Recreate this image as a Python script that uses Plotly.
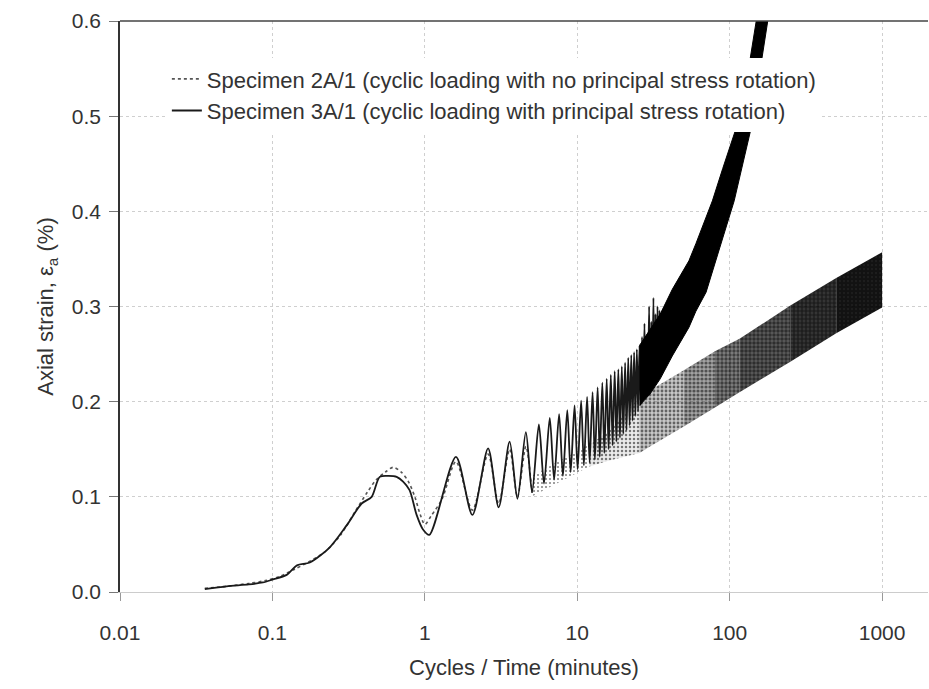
import plotly.graph_objects as go

# ---------------- data ----------------
# Specimen 3A/1 (solid) - initial smooth part
s3_x = [0.036, 0.05, 0.07, 0.0865, 0.1, 0.124, 0.145, 0.176, 0.238, 0.307, 0.385,
        0.448, 0.506, 0.58, 0.653, 0.72, 0.794, 0.883, 0.97, 1.07]
s3_y = [0.003, 0.006, 0.008, 0.010, 0.013, 0.018, 0.028, 0.031, 0.047, 0.070, 0.093,
        0.100, 0.121, 0.122, 0.121, 0.116, 0.107, 0.081, 0.066, 0.060]
# Specimen 3A/1 cycle peaks and troughs
peak_x = [1.6, 2.6, 3.6, 4.6, 5.6, 6.6, 7.6, 8.6, 9.6, 10.6, 11.6, 12.6, 13.6, 14.6,
          15.6, 16.6, 17.6, 18.6, 19.6, 20.6, 21.6, 22.6, 23.6, 24.6, 25.6, 26.6,
          27.6, 28.6, 29.6, 30.6, 31.6, 32.6, 33.6, 34.6]
peak_y = [0.142, 0.151, 0.158, 0.168, 0.176, 0.183, 0.187, 0.191, 0.196, 0.201, 0.205,
          0.210, 0.215, 0.220, 0.224, 0.228, 0.232, 0.234, 0.237, 0.241, 0.246, 0.249,
          0.252, 0.255, 0.259, 0.268, 0.282, 0.270, 0.300, 0.284, 0.309, 0.292, 0.300,
          0.296]
trough_x = [2.05, 3.05, 4.05, 5.05, 6.05, 7.05, 8.05, 9.05, 10.05, 11.05, 12.05, 13.05,
            14.05, 15.05, 16.05, 17.05, 18.05, 19.05, 20.05, 21.05, 22.05, 23.05, 24.05,
            25.05, 26.05, 27.05, 28.05, 29.05, 30.05, 31.05, 32.05, 33.05, 34.05, 35.05]
trough_y = [0.081, 0.089, 0.098, 0.105, 0.114, 0.118, 0.122, 0.126, 0.129, 0.133, 0.136,
            0.139, 0.142, 0.146, 0.150, 0.154, 0.158, 0.162, 0.166, 0.170, 0.175, 0.180,
            0.185, 0.190, 0.196, 0.202, 0.206, 0.209, 0.212, 0.216, 0.219, 0.222, 0.225,
            0.228]
# Specimen 3A/1 dense part: upper and lower envelope of the cycles
band3_up_x = [25.6, 30, 35, 42, 54, 60, 70, 77, 90, 110, 130, 149, 160]
band3_up_y = [0.259, 0.276, 0.292, 0.318, 0.348, 0.366, 0.394, 0.411, 0.445, 0.487,
              0.540, 0.595, 0.630]
band3_lo_x = [25.6, 30, 35, 42, 54, 60, 70, 85, 107, 138, 176, 190]
band3_lo_y = [0.196, 0.208, 0.224, 0.248, 0.278, 0.295, 0.315, 0.358, 0.411, 0.487,
              0.595, 0.630]

# Specimen 2A/1 (dotted) - initial part
s2_x = [0.036, 0.05, 0.07, 0.09, 0.11, 0.14, 0.17, 0.22, 0.28, 0.35, 0.42, 0.48, 0.55,
        0.62, 0.70, 0.78, 0.86, 0.93, 1.0, 1.1, 1.3, 1.6, 2.05, 2.6, 3.05, 3.6, 4.05,
        4.6, 5.05]
s2_y = [0.004, 0.006, 0.009, 0.012, 0.016, 0.024, 0.031, 0.042, 0.060, 0.085, 0.105,
        0.118, 0.126, 0.131, 0.126, 0.116, 0.100, 0.082, 0.071, 0.080, 0.098, 0.137,
        0.086, 0.145, 0.093, 0.150, 0.100, 0.153, 0.104]
# Specimen 2A/1 dense part: envelope of the cycles
band2_x = [5, 7.6, 12, 16, 25.6, 30, 50, 80, 116, 250, 500, 1000]
band2_top = [0.122, 0.138, 0.155, 0.168, 0.205, 0.212, 0.233, 0.253, 0.266, 0.301,
             0.330, 0.357]
band2_bot = [0.100, 0.115, 0.132, 0.138, 0.146, 0.153, 0.174, 0.194, 0.210, 0.242,
             0.272, 0.299]
band2_segments = [5, 12, 25.6, 50, 80, 116, 250, 500, 1000]
band2_shade = [0.0, 0.08, 0.22, 0.36, 0.5, 0.64, 0.76, 0.86]
band2_density = [0.2, 0.3, 0.4, 0.5, 0.55, 0.6, 0.7, 0.8]

x_ticks = [0.01, 0.1, 1, 10, 100, 1000]
x_ticktext = ["0.01", "0.1", "1", "10", "100", "1000"]
y_ticks = [0.0, 0.1, 0.2, 0.3, 0.4, 0.5, 0.6]
y_ticktext = ["0.0", "0.1", "0.2", "0.3", "0.4", "0.5", "0.6"]

name2 = "Specimen 2A/1 (cyclic loading with no principal stress rotation)"
name3 = "Specimen 3A/1 (cyclic loading with principal stress rotation)"

FONT = "Liberation Sans, Arial, sans-serif"
TXT = "#333333"

fig = go.Figure()

# dotted band of specimen 2A/1, drawn in segments of growing density
for i in range(len(band2_segments) - 1):
    a, b = band2_segments[i], band2_segments[i + 1]
    idx = [k for k, v in enumerate(band2_x) if a <= v <= b]
    px = [band2_x[k] for k in idx] + [band2_x[k] for k in reversed(idx)]
    py = [band2_top[k] for k in idx] + [band2_bot[k] for k in reversed(idx)]
    fig.add_trace(go.Scatter(
        x=px, y=py, mode="lines", fill="toself",
        line=dict(width=0, color="black"),
        fillcolor=f"rgba(0,0,0,{band2_shade[i]})",
        fillpattern=dict(shape=".", size=4, solidity=band2_density[i],
                         fgcolor="black", fillmode="overlay"),
        showlegend=False, hoverinfo="skip"))

# specimen 2A/1 early curve (dotted)
fig.add_trace(go.Scatter(
    x=s2_x, y=s2_y, mode="lines", name=name2,
    line=dict(color="#555555", width=1.6, dash="dot", shape="spline", smoothing=0.8)))

# specimen 3A/1 curve with individual cycles
x3 = list(s3_x)
y3 = list(s3_y)
for px_, py_, tx_, ty_ in zip(peak_x, peak_y, trough_x, trough_y):
    x3 += [px_, tx_]
    y3 += [py_, ty_]
fig.add_trace(go.Scatter(
    x=x3, y=y3, mode="lines", name=name3,
    line=dict(color="#1a1a1a", width=1.8, shape="spline", smoothing=0.8)))

# dense part of 3A/1 (solid black band)
fig.add_trace(go.Scatter(
    x=band3_up_x + band3_lo_x[::-1], y=band3_up_y + band3_lo_y[::-1],
    mode="lines", fill="toself", fillcolor="black",
    line=dict(width=1, color="black"), showlegend=False, hoverinfo="skip"))

fig.update_layout(
    width=929, height=689,
    margin=dict(l=120, r=1, t=21, b=97),
    paper_bgcolor="white", plot_bgcolor="white",
    font=dict(family=FONT, color=TXT, size=20),
    showlegend=True,
    legend=dict(x=0.058, y=0.935, xanchor="left", yanchor="top",
                bgcolor="white", font=dict(size=22, color=TXT),
                itemwidth=30, tracegroupgap=0),
    shapes=[dict(type="line", xref="paper", yref="paper", x0=0, x1=1, y0=1, y1=1,
                 line=dict(color="#444444", width=1.5), layer="above")],
)

fig.update_xaxes(
    type="log", range=[-2, 3.301],
    tickvals=x_ticks, ticktext=x_ticktext,
    ticks="outside", ticklen=8, tickcolor="#999999", tickwidth=1,
    ticklabelstandoff=14,
    showline=True, linecolor="#cccccc", linewidth=1,
    showgrid=True, gridcolor="#cfcfcf", griddash="dot", gridwidth=1,
    zeroline=False,
    tickfont=dict(size=21, color=TXT),
    title=dict(text="Cycles / Time (minutes)", font=dict(size=22, color=TXT), standoff=16),
)
fig.update_yaxes(
    range=[0, 0.6],
    tickvals=y_ticks, ticktext=y_ticktext,
    ticks="outside", ticklen=9, tickcolor="#777777", tickwidth=1,
    ticklabelstandoff=4,
    showline=True, linecolor="#333333", linewidth=1.5,
    showgrid=True, gridcolor="#cfcfcf", griddash="dot", gridwidth=1,
    zeroline=False,
    tickfont=dict(size=21, color=TXT),
    title=dict(text="Axial strain, ε<sub>a</sub> (%)", font=dict(size=22, color=TXT), standoff=12),
)

fig.write_html("out.html")
